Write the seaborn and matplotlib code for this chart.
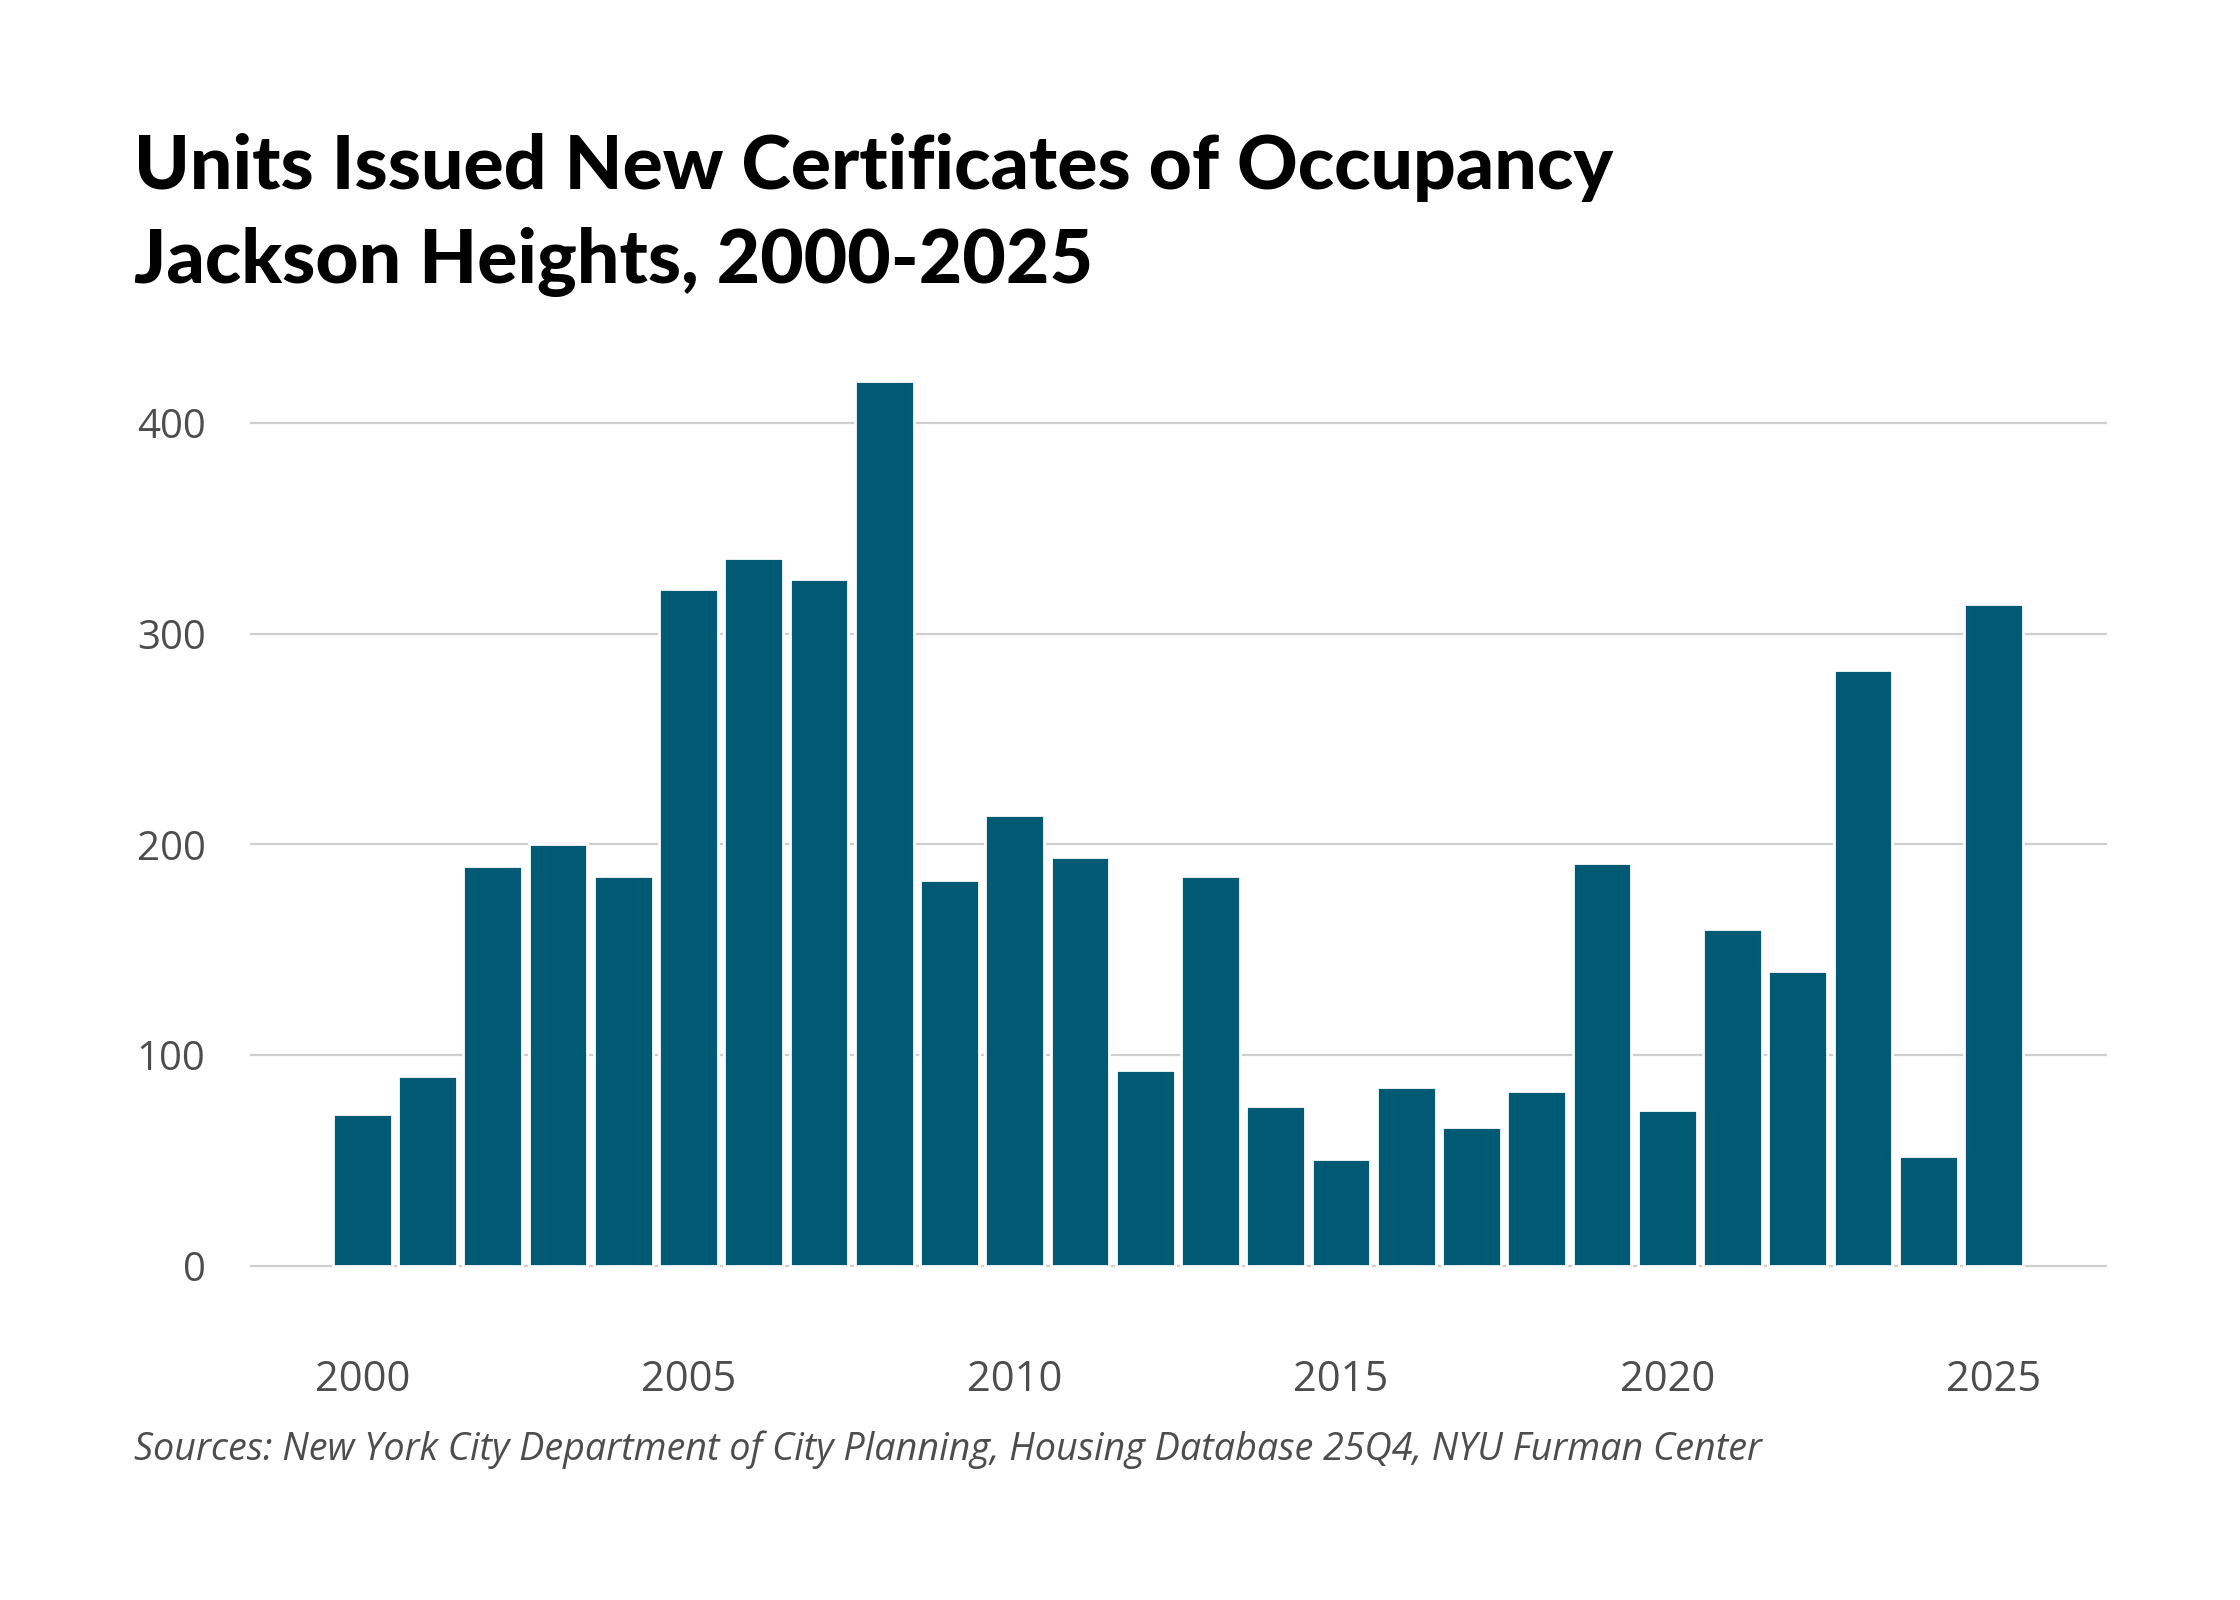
import matplotlib
matplotlib.use("Agg")
import matplotlib.pyplot as plt
import seaborn as sns
import pandas as pd

# values
years = list(range(2000, 2026))
units = [72, 90, 190, 200, 185, 321, 336, 326, 420, 183,
         214, 194, 93, 185, 76, 51, 85, 66, 83, 191,
         74, 160, 140, 283, 52, 314]
tick_years = [2000, 2005, 2010, 2015, 2020, 2025]
y_ticks = [0, 100, 200, 300, 400]

title_1 = "Units Issued New Certificates of Occupancy"
title_2 = "Jackson Heights, 2000-2025"
source = "Sources: New York City Department of City Planning, Housing Database 25Q4, NYU Furman Center"

bar_color = "#005a74"
grid_color = "#cfcfcf"
label_color = "#4d4d4d"

sns.set_theme(style="white")
plt.rcParams['font.family'] = ['Open Sans', 'DejaVu Sans']

df = pd.DataFrame({"Year": years, "Units": units})

fig = plt.figure(figsize=(11.2, 8), dpi=200)
ax = fig.add_axes([0.1116, 0.2061, 0.829, 0.5691])

sns.barplot(data=df, x="Year", y="Units", native_scale=True, width=0.9,
            color=bar_color, saturation=1, ax=ax, zorder=3)

ax.set_xlim(1998.28, 2026.74)
ax.set_ylim(-2, 430)
ax.set_yticks(y_ticks)
ax.set_xticks(tick_years)
ax.set_xticklabels([str(y) for y in tick_years])
ax.set_yticklabels([str(v) for v in y_ticks])
ax.yaxis.grid(True, color=grid_color, linewidth=0.8, zorder=0)
ax.xaxis.grid(False)
for s in ax.spines.values():
    s.set_visible(False)
ax.tick_params(axis="y", length=0, pad=16, labelsize=14.5, labelcolor=label_color)
ax.tick_params(axis="x", length=0, pad=32, labelsize=15, labelcolor=label_color)
ax.set_xlabel("")
ax.set_ylabel("")

title_font = ["Lato", "DejaVu Sans"]
fig.text(0.0598, 0.882, title_1, fontsize=27, fontweight="black",
         family=title_font, color="black", va="baseline")
fig.text(0.0598, 0.823, title_2, fontsize=27, fontweight="black",
         family=title_font, color="black", va="baseline")
fig.text(0.0598, 0.0875, source, fontsize=13.6, style="italic",
         color=label_color, va="baseline")

fig.savefig("out.png", dpi=200, facecolor="white")
